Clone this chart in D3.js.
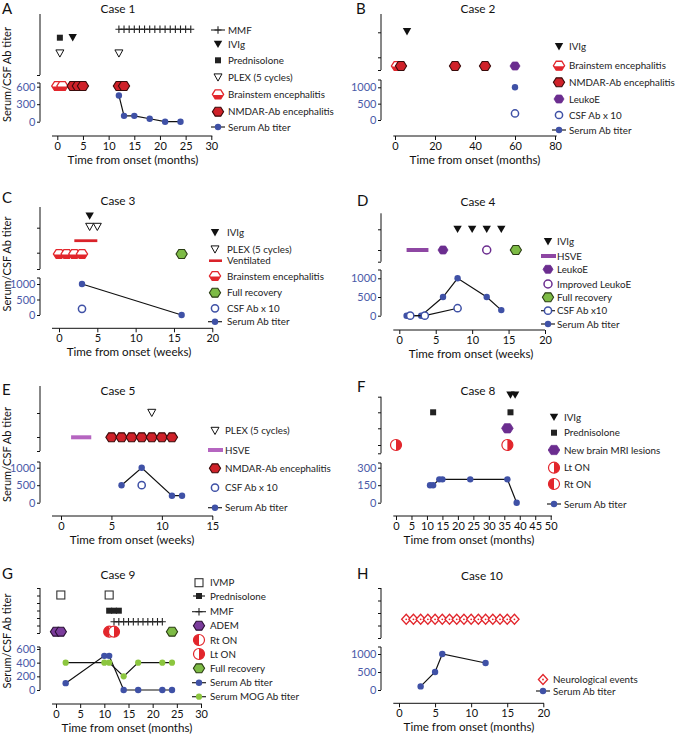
<!DOCTYPE html>
<html><head><meta charset="utf-8">
<script src="https://cdn.jsdelivr.net/npm/d3@7"></script>
<style>body{margin:0;background:#fff}</style>
</head><body><svg id="c" width="675" height="735"></svg>
<script>
// ---------------- DATA ----------------
const xTicksA = [0,5,10,15,20,25,30];
const xTicksB = [0,20,40,60,80];
const xTicksC = [0,5,10,15,20];
const xTicksD = [0,5,10,15,20];
const xTicksE = [0,5,10,15];
const xTicksF = [0,5,10,15,20,25,30,35,40,45,50];
const xTicksG = [0,5,10,15,20,25,30];
const xTicksH = [0,5,10,15,20];
const yTicksA = [0,300,600];
const yTicksB = [0,500,1000];
const yTicksC = [0,500,1000];
const yTicksD = [0,500,1000];
const yTicksE = [0,500,1000];
const yTicksF = [0,150,300];
const yTicksG = [0,200,400,600];
const yTicksH = [0,500,1000];

// Case 1
const c1MMF = [12,13,14,15,16,17,18,19,20,21,22,23,24,25,26];
const c1IVIg = [3];
const c1Pred = [0.5];
const c1PLEX = [0.5,12];
const c1Brainstem = [0,1];
const c1NMDAR = [3,4,5,12,13];
const c1SerumT = [12,13,15,18,21,24];
const c1Serum = [450,100,100,50,0,0];
// Case 2
const c2IVIg = [6];
const c2Brainstem = [1];
const c2NMDAR = [3,30,45];
const c2LeukoE = [60];
const c2SerumT = [60];
const c2Serum = [1000];
const c2CSFT = [60];
const c2CSF = [200];
// Case 3
const c3IVIg = [4];
const c3PLEX = [4,5];
const c3Vent = [2,5];
const c3Brainstem = [0,1,2,3];
const c3Recovery = [16];
const c3SerumT = [3,16];
const c3Serum = [1000,0];
const c3CSFT = [3];
const c3CSF = [200];
// Case 4
const c4IVIg = [8,10,12,14];
const c4HSVE = [1,4];
const c4LeukoE = [6];
const c4Improved = [12];
const c4Recovery = [16];
const c4SerumT = [1,3,6,8,12,14];
const c4Serum = [0,0,500,1000,500,150];
const c4CSFT = [1.5,3.5,8];
const c4CSF = [0,0,200];
// Case 5
const c5PLEX = [9];
const c5HSVE = [1,3];
const c5NMDAR = [5,6,7,8,9,10,11];
const c5SerumT = [6,8,11,12];
const c5Serum = [500,1000,200,200];
const c5CSFT = [8];
const c5CSF = [500];
// Case 8
const c8IVIg = [37,38.5];
const c8Pred = [12,37];
const c8MRI = [36];
const c8LtON = [0,36];
const c8SerumT = [11,12,14,15,24,36,39];
const c8Serum = [150,150,200,200,200,200,0];
// Case 9
const c9IVMP = [1,11];
const c9Pred = [11,12,13];
const c9MMF = [12,13,14,15,16,17,18,19,20,21,22];
const c9ADEM = [0,1];
const c9RtON = [11];
const c9LtON = [12];
const c9Recovery = [24];
const c9SerumT = [2,10,11,14,17,22,24];
const c9Serum = [100,500,500,0,0,0,0];
const c9MOGT = [2,10,11,14,17,22,24];
const c9MOG = [400,400,400,200,400,400,400];
// Case 10
const c10Events = [1,2,3,4,5,6,7,8,9,10,11,12,13,14,15,16];
const c10SerumT = [3,5,6,12];
const c10Serum = [100,500,1000,750];

// ---------------- STYLE ----------------
const FONT_AX = "Lato, 'Open Sans', sans-serif";
const FONT_LG = "Lato, 'Open Sans', sans-serif";
const BLUE = '#3f51a6', TICKBLUE = '#4a5aa8', RED = '#e2262c', DARKRED = '#cf2129',
      PURPLE = '#6b2d8f', GREEN = '#7dbb45', MOGGREEN = '#8cc63f', HSVE = '#8e47a3', HSVE2 = '#b565c0';

const svg = d3.select('#c');

// size text so that a sample string matches its width in the reference
function fitSize(family, str, target, base){
  const t = svg.append('text').attr('font-family', family).attr('font-size', base).text(str);
  const w = t.node().getComputedTextLength();
  t.remove();
  return w > 0 ? base * target / w : base;
}
const LG_SIZE = fitSize(FONT_LG, 'Brainstem encephalitis', 97, 10);
const XT_SIZE = fitSize(FONT_AX, 'Time from onset (months)', 131, 12);
const YT_SIZE = fitSize(FONT_AX, 'Serum/CSF Ab titer', 95, 12);
const TT_SIZE = fitSize(FONT_AX, 'Case 1', 35, 12);

const hexLine = d3.line().curve(d3.curveLinearClosed);
function hexPts(r){ return d3.range(6).map(i => [r*Math.cos(i*Math.PI/3), r*0.92*Math.sin(i*Math.PI/3)]); }
let clipN = 0;

function halfCircle(m, side, r){
  m.append('circle').attr('r', r).attr('fill', '#fff').attr('stroke', RED).attr('stroke-width', 1.2);
  const sweep = side === 'right' ? 1 : 0;
  m.append('path').attr('d', `M0,${-r} A${r},${r} 0 0 ${sweep} 0,${r} Z`).attr('fill', RED);
}

function marker(g, type, x, y){
  const m = g.append('g').attr('transform', `translate(${x},${y})`);
  switch(type){
    case 'nmdar':
      m.append('path').attr('d', hexLine(hexPts(5.6))).attr('fill', DARKRED).attr('stroke', '#3a0b0b').attr('stroke-width', 1.1); break;
    case 'brainstem': {
      m.append('path').attr('d', hexLine(hexPts(5.6))).attr('fill', '#fff').attr('stroke', RED).attr('stroke-width', 1.3);
      const id = 'cl' + (clipN++);
      m.append('clipPath').attr('id', id).append('rect').attr('x', -8).attr('y', 0.6).attr('width', 16).attr('height', 8);
      m.append('path').attr('d', hexLine(hexPts(5.6))).attr('fill', RED).attr('clip-path', `url(#${id})`);
      break; }
    case 'recovery':
      m.append('path').attr('d', hexLine(hexPts(5.6))).attr('fill', GREEN).attr('stroke', '#2b3d14').attr('stroke-width', 1.1); break;
    case 'leuko':
      m.append('path').attr('d', hexLine(hexPts(5))).attr('fill', PURPLE).attr('stroke', PURPLE).attr('stroke-width', 0.8); break;
    case 'mri':
      m.append('path').attr('d', hexLine(hexPts(5.8))).attr('fill', PURPLE).attr('stroke', PURPLE).attr('stroke-width', 0.8); break;
    case 'adem':
      m.append('path').attr('d', hexLine(hexPts(5.6))).attr('fill', '#7b3c9c').attr('stroke', '#2a1034').attr('stroke-width', 1.1); break;
    case 'improved':
      m.append('circle').attr('r', 4).attr('fill', '#fff').attr('stroke', PURPLE).attr('stroke-width', 1.5); break;
    case 'lton': halfCircle(m, 'right', 5.5); break;
    case 'rton': halfCircle(m, 'left', 5.5); break;
    case 'serum':
      m.append('circle').attr('r', 3.2).attr('fill', BLUE); break;
    case 'csf':
      m.append('circle').attr('r', 3.6).attr('fill', '#fff').attr('stroke', BLUE).attr('stroke-width', 1.5); break;
    case 'mog':
      m.append('circle').attr('r', 3.1).attr('fill', MOGGREEN); break;
    case 'ivig':
      m.append('path').attr('d', 'M-4.2,-3.6L4.2,-3.6L0,3.8Z').attr('fill', '#111'); break;
    case 'plex':
      m.append('path').attr('d', 'M-4,-3.4L4,-3.4L0,3.8Z').attr('fill', '#fff').attr('stroke', '#111').attr('stroke-width', 1); break;
    case 'pred':
      m.append('rect').attr('x', -3).attr('y', -3).attr('width', 6).attr('height', 6).attr('fill', '#222'); break;
    case 'ivmp':
      m.append('rect').attr('x', -4).attr('y', -4).attr('width', 8).attr('height', 8).attr('fill', '#fff').attr('stroke', '#333').attr('stroke-width', 1.1); break;
    case 'mmf':
      m.append('path').attr('d', 'M-3.5,0H3.5M0,-3.8V3.8').attr('stroke', '#222').attr('stroke-width', 1.1); break;
    case 'neuro':
      m.append('path').attr('d', 'M0,-5L4.6,0L0,5L-4.6,0Z').attr('fill', '#fff').attr('stroke', RED).attr('stroke-width', 1.3);
      m.append('circle').attr('r', 0.9).attr('fill', RED); break;
  }
}

function legendSymbol(g, type, x, y){
  const line = (x1, x2, col, w) => g.append('line').attr('x1', x1).attr('x2', x2).attr('y1', y).attr('y2', y).attr('stroke', col).attr('stroke-width', w);
  switch(type){
    case 'serumL': line(x-7, x+7, '#222', 1.2); marker(g, 'serum', x, y); break;
    case 'csfL': line(x-7, x+7, '#222', 1.2); marker(g, 'csf', x, y); break;
    case 'mogL': line(x-7, x+7, '#222', 1.2); marker(g, 'mog', x, y); break;
    case 'predL': line(x-6, x+6, '#222', 1.2); marker(g, 'pred', x, y); break;
    case 'mmf': line(x-7, x+7, '#222', 1.1); marker(g, 'mmf', x, y); break;
    case 'hsve': line(x-7, x+8, HSVE, 4); break;
    case 'hsve2': line(x-7, x+8, HSVE2, 4); break;
    case 'vent': line(x-6, x+7, '#d9232a', 2.6); break;
    default: marker(g, type, x, y);
  }
}

// ---------------- LAYOUT ----------------
const panels = [
 { label:'A', lx:2, ly:14, title:'Case 1', tx:118, ty:13,
   xDom:[0,30], xRange:[57.3,211.3], xAxisY:136, xLine:[52,212.3], xTicks:xTicksA, xTitle:'Time from onset (months)', xTitleX:133,
   yDom:[0,600], yRange:[121.7,86.7], yTicks:yTicksA, yAxisX:40, yTop:83,
   upTop:14, upBot:75, upTicks:[75], yTitleY:74.5,
   rows:{mmf:29.3, trt:37.7, plex:53.3, ev:86},
   legX:218, legTX:228,
   legend:[['mmf','MMF',30],['ivig','IVIg',44.3],['pred','Prednisolone',60.3],['plex','PLEX (5 cycles)',77.3],['brainstem','Brainstem encephalitis',94.3],['nmdar','NMDAR-Ab encephalitis',111.7],['serumL','Serum Ab titer',127]],
   layers:[
     {k:'mmf', xs:c1MMF, row:'mmf'},
     {k:'pts', t:'pred', xs:c1Pred, row:'trt'},
     {k:'pts', t:'ivig', xs:c1IVIg, row:'trt'},
     {k:'pts', t:'plex', xs:c1PLEX, row:'plex'},
     {k:'pts', t:'brainstem', xs:c1Brainstem, row:'ev'},
     {k:'pts', t:'nmdar', xs:c1NMDAR, row:'ev'},
     {k:'series', t:'serum', xs:c1SerumT, ys:c1Serum, line:true}
   ]},
 { label:'B', lx:356, ly:14, title:'Case 2', tx:478, ty:13,
   xDom:[0,80], xRange:[395,555], xAxisY:136, xLine:[393.3,556.7], xTicks:xTicksB, xTitle:'Time from onset (months)', xTitleX:475,
   yDom:[0,1000], yRange:[120,87.3], yTicks:yTicksB, yAxisX:381, yTop:80,
   upTop:14, upBot:70, upTicks:[32.3,57.3,70],
   rows:{ivig:31.7, ev:66},
   legX:559, legTX:569,
   legend:[['ivig','IVIg',46.7],['brainstem','Brainstem encephalitis',65.7],['nmdar','NMDAR-Ab encephalitis',82.3],['leuko','LeukoE',99],['csf','CSF Ab x 10',115],['serumL','Serum Ab titer',130]],
   layers:[
     {k:'pts', t:'ivig', xs:c2IVIg, row:'ivig'},
     {k:'pts', t:'brainstem', xs:c2Brainstem, row:'ev'},
     {k:'pts', t:'nmdar', xs:c2NMDAR, row:'ev'},
     {k:'pts', t:'leuko', xs:c2LeukoE, row:'ev'},
     {k:'series', t:'serum', xs:c2SerumT, ys:c2Serum, line:false},
     {k:'series', t:'csf', xs:c2CSFT, ys:c2CSF, line:false}
   ]},
 { label:'C', lx:2, ly:203, title:'Case 3', tx:118, ty:205,
   xDom:[0,20], xRange:[59,212.3], xAxisY:328.3, xLine:[52,213], xTicks:xTicksC, xTitle:'Time from onset (weeks)', xTitleX:129,
   yDom:[0,1000], yRange:[315,284], yTicks:yTicksC, yAxisX:40, yTop:278,
   upTop:207, upBot:269, upTicks:[227.7,252.7,269], yTitleY:264,
   rows:{ivig:216, plex:226.7, vent:240.7, ev:254},
   legX:215, legTX:227,
   legend:[['ivig','IVIg',232.7],['plex','PLEX (5 cycles)',249.3],['vent','Ventilated',260.7],['brainstem','Brainstem encephalitis',276],['recovery','Full recovery',292.7],['csf','CSF Ab x 10',308.3],['serumL','Serum Ab titer',321.7]],
   layers:[
     {k:'pts', t:'ivig', xs:c3IVIg, row:'ivig'},
     {k:'pts', t:'plex', xs:c3PLEX, row:'plex'},
     {k:'seg', color:'#d9232a', w:2.8, xs:c3Vent, row:'vent'},
     {k:'pts', t:'brainstem', xs:c3Brainstem, row:'ev'},
     {k:'pts', t:'recovery', xs:c3Recovery, row:'ev'},
     {k:'series', t:'serum', xs:c3SerumT, ys:c3Serum, line:true},
     {k:'series', t:'csf', xs:c3CSFT, ys:c3CSF, line:false}
   ]},
 { label:'D', lx:357, ly:206, title:'Case 4', tx:478, ty:206,
   xDom:[0,20], xRange:[399.3,545], xAxisY:330, xLine:[393.3,545], xTicks:xTicksD, xTitle:'Time from onset (weeks)', xTitleX:471,
   yDom:[0,1000], yRange:[315.7,278.3], yTicks:yTicksD, yAxisX:381, yTop:270,
   upTop:213.3, upBot:261.7, upTicks:[229.3,250,261.7],
   rows:{ivig:229.3, ev:250},
   legX:548, legTX:557,
   legend:[['ivig','IVIg',241.7],['hsve','HSVE',256],['leuko','LeukoE',269.3],['improved','Improved LeukoE',284],['recovery','Full recovery',297.3],['csfL','CSF Ab x10',310.7],['serumL','Serum Ab titer',324]],
   layers:[
     {k:'pts', t:'ivig', xs:c4IVIg, row:'ivig'},
     {k:'seg', color:HSVE, w:4, xs:c4HSVE, row:'ev'},
     {k:'pts', t:'leuko', xs:c4LeukoE, row:'ev'},
     {k:'pts', t:'improved', xs:c4Improved, row:'ev'},
     {k:'pts', t:'recovery', xs:c4Recovery, row:'ev'},
     {k:'series', t:'serum', xs:c4SerumT, ys:c4Serum, line:true},
     {k:'series', t:'csf', xs:c4CSFT, ys:c4CSF, line:true}
   ]},
 { label:'E', lx:2, ly:395, title:'Case 5', tx:118, ty:395,
   xDom:[0,15], xRange:[61,212.3], xAxisY:516, xLine:[52,213], xTicks:xTicksE, xTitle:'Time from onset (weeks)', xTitleX:132,
   yDom:[0,1000], yRange:[502.7,467.7], yTicks:yTicksE, yAxisX:40, yTop:462,
   upTop:386, upBot:451, upTicks:[413,437,451], yTitleY:454.5,
   rows:{plex:412.7, ev:437.3},
   legX:215, legTX:225,
   legend:[['plex','PLEX (5 cycles)',430.7],['hsve2','HSVE',450],['nmdar','NMDAR-Ab encephalitis',468.3],['csf','CSF Ab x 10',487.7],['serumL','Serum Ab titer',507.7]],
   layers:[
     {k:'pts', t:'plex', xs:c5PLEX, row:'plex'},
     {k:'seg', color:HSVE2, w:4, xs:c5HSVE, row:'ev'},
     {k:'pts', t:'nmdar', xs:c5NMDAR, row:'ev'},
     {k:'series', t:'serum', xs:c5SerumT, ys:c5Serum, line:true},
     {k:'series', t:'csf', xs:c5CSFT, ys:c5CSF, line:false}
   ]},
 { label:'F', lx:357, ly:392, title:'Case 8', tx:478, ty:395,
   xDom:[0,50], xRange:[396,550.7], xAxisY:516, xLine:[393.3,552], xTicks:xTicksF, xTitle:'Time from onset (months)', xTitleX:469,
   yDom:[0,300], yRange:[502.7,467.7], yTicks:yTicksF, yAxisX:381, yTop:463,
   upTop:396.7, upBot:453.3, upTicks:[396.7,412.3,428.3,445,453.3],
   rows:{ivig:395, pred:412.3, mri:428.3, ev:445},
   legX:554, legTX:564,
   legend:[['ivig','IVIg',417.3],['pred','Prednisolone',432.7],['mri','New brain MRI lesions',450],['lton','Lt ON',467.7],['rton','Rt ON',484],['serumL','Serum Ab titer',504]],
   layers:[
     {k:'pts', t:'ivig', xs:c8IVIg, row:'ivig'},
     {k:'pts', t:'pred', xs:c8Pred, row:'pred'},
     {k:'pts', t:'mri', xs:c8MRI, row:'mri'},
     {k:'pts', t:'lton', xs:c8LtON, row:'ev'},
     {k:'series', t:'serum', xs:c8SerumT, ys:c8Serum, line:true}
   ]},
 { label:'G', lx:2, ly:579, title:'Case 9', tx:118, ty:579,
   xDom:[0,30], xRange:[56,201], xAxisY:704, xLine:[52,202], xTicks:xTicksG, xTitle:'Time from onset (months)', xTitleX:127,
   yDom:[0,600], yRange:[690,649], yTicks:yTicksG, yAxisX:40, yTop:647,
   upTop:588, upBot:633, upTicks:d3.range(7).map(i => 588 + i*7.5), yTitleY:641,
   rows:{ivmp:595, pred:610.7, mmf:621.7, ev:631.7},
   legX:199, legTX:210,
   legend:[['ivmp','IVMP',582.7],['predL','Prednisolone',596],['mmf','MMF',611.7],['adem','ADEM',625.7],['rton','Rt ON',640],['lton','Lt ON',654],['recovery','Full recovery',668.3],['serumL','Serum Ab titer',682.7],['mogL','Serum MOG Ab titer',696.7]],
   layers:[
     {k:'pts', t:'ivmp', xs:c9IVMP, row:'ivmp'},
     {k:'pts', t:'pred', xs:c9Pred, row:'pred'},
     {k:'mmf', xs:c9MMF, row:'mmf'},
     {k:'pts', t:'adem', xs:c9ADEM, row:'ev'},
     {k:'pts', t:'rton', xs:c9RtON, row:'ev'},
     {k:'pts', t:'lton', xs:c9LtON, row:'ev'},
     {k:'pts', t:'recovery', xs:c9Recovery, row:'ev'},
     {k:'series', t:'serum', xs:c9SerumT, ys:c9Serum, line:true},
     {k:'series', t:'mog', xs:c9MOGT, ys:c9MOG, line:true}
   ]},
 { label:'H', lx:357, ly:579, title:'Case 10', tx:482, ty:580,
   xDom:[0,20], xRange:[399,543.3], xAxisY:703.3, xLine:[393.3,544], xTicks:xTicksH, xTitle:'Time from onset (months)', xTitleX:469,
   yDom:[0,1000], yRange:[690,654], yTicks:yTicksH, yAxisX:381, yTop:647,
   upTop:588, upBot:638, upTicks:d3.range(5).map(i => 588 + i*12.5),
   rows:{ev:619.3},
   legX:543, legTX:553,
   legend:[['neuro','Neurological events',679.5],['serumL','Serum Ab titer',691]],
   layers:[
     {k:'pts', t:'neuro', xs:c10Events, row:'ev'},
     {k:'series', t:'serum', xs:c10SerumT, ys:c10Serum, line:true}
   ]}
];

// ---------------- DRAW ----------------
panels.forEach(p => {
  const g = svg.append('g');
  const x = d3.scaleLinear().domain(p.xDom).range(p.xRange);
  const y = d3.scaleLinear().domain(p.yDom).range(p.yRange);
  const row = d3.scaleOrdinal().domain(Object.keys(p.rows)).range(Object.values(p.rows));

  g.append('text').attr('x', p.lx).attr('y', p.ly).text(p.label)
    .attr('font-family', FONT_AX).attr('font-size', 15).attr('fill', '#111');
  g.append('text').attr('x', p.tx).attr('y', p.ty).text(p.title).attr('text-anchor', 'middle')
    .attr('font-family', FONT_AX).attr('font-size', TT_SIZE).attr('fill', '#111');

  // x axis
  const xa = g.append('g').attr('transform', `translate(0,${p.xAxisY})`)
    .call(d3.axisBottom(x).tickValues(p.xTicks).tickSize(4).tickPadding(2).tickFormat(d3.format('d')));
  xa.select('.domain').remove();
  xa.append('line').attr('x1', p.xLine[0]).attr('x2', p.xLine[1]).attr('stroke', '#111').attr('stroke-width', 1);
  xa.selectAll('.tick line').attr('stroke', '#111');
  xa.selectAll('.tick text').attr('font-family', FONT_AX).attr('font-size', 11).attr('fill', '#111');
  g.append('text').attr('x', p.xTitleX).attr('y', p.xAxisY + 27.5).attr('text-anchor', 'middle')
    .text(p.xTitle).attr('font-family', FONT_AX).attr('font-size', XT_SIZE).attr('fill', '#111');

  // lower y axis
  const ya = g.append('g').attr('transform', `translate(${p.yAxisX},0)`)
    .call(d3.axisLeft(y).tickValues(p.yTicks).tickSize(3).tickPadding(1.5).tickFormat(d3.format('d')));
  ya.select('.domain').remove();
  ya.append('line').attr('y1', p.yTop).attr('y2', p.yRange[0]).attr('stroke', '#111');
  ya.append('line').attr('y1', p.yTop).attr('y2', p.yTop).attr('x1', -3).attr('x2', 0).attr('stroke', '#111');
  ya.selectAll('.tick line').attr('stroke', '#111');
  ya.selectAll('.tick text').attr('font-family', FONT_AX).attr('font-size', 11).attr('fill', TICKBLUE);

  // upper (event) axis
  const up = d3.scaleLinear().domain([p.upTop, p.upBot]).range([p.upTop, p.upBot]);
  const ua = g.append('g').attr('transform', `translate(${p.yAxisX},0)`)
    .call(d3.axisLeft(up).tickValues(p.upTicks).tickSize(3).tickFormat(''));
  ua.select('.domain').remove();
  ua.append('line').attr('y1', p.upTop).attr('y2', p.upBot).attr('stroke', '#111');
  ua.selectAll('.tick line').attr('stroke', '#111');

  if (p.yTitleY) {
    g.append('text').attr('transform', `translate(11,${p.yTitleY}) rotate(-90)`).attr('text-anchor', 'middle')
      .text('Serum/CSF Ab titer').attr('font-family', FONT_AX).attr('font-size', YT_SIZE).attr('fill', '#111');
  }

  const lineGen = d3.line().x(d => x(d[0])).y(d => y(d[1]));
  p.layers.forEach(L => {
    if (L.k === 'pts') {
      L.xs.forEach(v => marker(g, L.t, x(v), row(L.row)));
    } else if (L.k === 'mmf') {
      const yy = row(L.row);
      g.append('line').attr('x1', x(d3.min(L.xs))).attr('x2', x(d3.max(L.xs))).attr('y1', yy).attr('y2', yy)
        .attr('stroke', '#222').attr('stroke-width', 1.1);
      L.xs.forEach(v => marker(g, 'mmf', x(v), yy));
    } else if (L.k === 'seg') {
      const yy = row(L.row);
      g.append('line').attr('x1', x(L.xs[0])).attr('x2', x(L.xs[1])).attr('y1', yy).attr('y2', yy)
        .attr('stroke', L.color).attr('stroke-width', L.w);
    } else if (L.k === 'series') {
      const pts = L.xs.map((v, i) => [v, L.ys[i]]);
      if (L.line) g.append('path').attr('d', lineGen(pts)).attr('fill', 'none').attr('stroke', '#111').attr('stroke-width', 1.2);
      pts.forEach(d => marker(g, L.t, x(d[0]), y(d[1])));
    }
  });

  p.legend.forEach(([t, label, ly]) => {
    legendSymbol(g, t, p.legX, ly);
    g.append('text').attr('x', p.legTX).attr('y', ly + 3.6).text(label)
      .attr('font-family', FONT_LG).attr('font-size', LG_SIZE).attr('fill', '#222');
  });
});
</script></body></html>
